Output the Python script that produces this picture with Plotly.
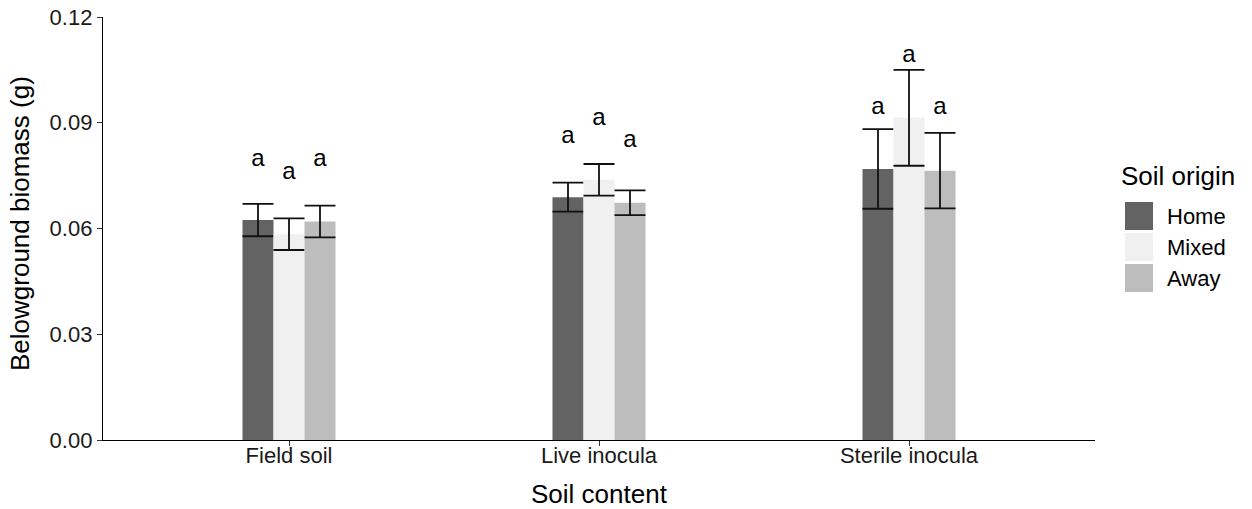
import plotly.graph_objects as go

# ---- data ----
categories = ["Field soil", "Live inocula", "Sterile inocula"]
origins = ["Home", "Mixed", "Away"]
colors = ["#636363", "#f0f0f0", "#bdbdbd"]

home_mean = [0.0624, 0.0689, 0.0769]
mixed_mean = [0.0584, 0.0738, 0.0914]
away_mean = [0.0620, 0.0673, 0.0764]

home_se = [0.0046, 0.0041, 0.0113]
mixed_se = [0.0045, 0.0045, 0.0136]
away_se = [0.0045, 0.0035, 0.0107]

letters_home = ["a", "a", "a"]
letters_mixed = ["a", "a", "a"]
letters_away = ["a", "a", "a"]

letter_y_home = [0.0794, 0.0860, 0.0943]
letter_y_mixed = [0.0758, 0.0912, 0.1088]
letter_y_away = [0.0794, 0.0848, 0.0941]

y_ticks = [0.00, 0.03, 0.06, 0.09, 0.12]

means = [home_mean, mixed_mean, away_mean]
ses = [home_se, mixed_se, away_se]
letters = [letters_home, letters_mixed, letters_away]
letter_ys = [letter_y_home, letter_y_mixed, letter_y_away]

FONT = "Liberation Sans, Arial, sans-serif"
W, H = 1252, 509
L, R, T, B = 103, 157, 17, 69

fig = go.Figure()
for i, name in enumerate(origins):
    fig.add_trace(go.Bar(
        x=categories, y=means[i], name=name, offsetgroup=name,
        marker=dict(color=colors[i], line=dict(width=0)),
        error_y=dict(type="data", array=ses[i], visible=True,
                     color="#111111", thickness=1.8, width=15.5),
        showlegend=False,
    ))
for i, name in enumerate(origins):
    fig.add_trace(go.Scatter(
        x=categories, y=letter_ys[i], mode="text", text=letters[i],
        offsetgroup=name, textposition="middle center",
        textfont=dict(family=FONT, size=24, color="#000000"),
        showlegend=False, hoverinfo="skip",
    ))

# custom legend (ggplot-like big keys)
def px_x(p):
    return (p - L) / (W - L - R)

def px_y(p):
    return (H - B - p) / (H - T - B)

shapes = []
annotations = []
annotations.append(dict(x=px_x(1119), y=px_y(176), xref="paper", yref="paper",
                        text="Soil origin", showarrow=False, xanchor="left",
                        yanchor="middle",
                        font=dict(family=FONT, size=26, color="#000000")))
centers = [216, 247, 278]
for i, name in enumerate(origins):
    c = centers[i]
    shapes.append(dict(type="rect", xref="paper", yref="paper",
                       x0=px_x(1125), x1=px_x(1153),
                       y0=px_y(c + 14), y1=px_y(c - 14),
                       fillcolor=colors[i], line=dict(width=0)))
    annotations.append(dict(x=px_x(1165), y=px_y(c), xref="paper", yref="paper",
                            text=name, showarrow=False, xanchor="left",
                            yanchor="middle",
                            font=dict(family=FONT, size=22, color="#000000")))

# axis titles placed as annotations for exact ggplot-like positions
annotations.append(dict(x=0.5, y=px_y(494), xref="paper", yref="paper",
                        text="Soil content", showarrow=False,
                        xanchor="center", yanchor="middle",
                        font=dict(family=FONT, size=26, color="#000000")))
annotations.append(dict(x=px_x(20), y=px_y(224), xref="paper", yref="paper",
                        text="Belowground biomass (g)", showarrow=False,
                        textangle=-90, xanchor="center", yanchor="middle",
                        font=dict(family=FONT, size=26, color="#000000")))

fig.update_layout(
    width=W, height=H,
    margin=dict(l=L, r=R, t=T, b=B, autoexpand=False),
    paper_bgcolor="white", plot_bgcolor="white",
    barmode="group", bargap=0.7, bargroupgap=0,
    scattermode="group", scattergap=0.7,
    font=dict(family=FONT, color="#000000"),
    shapes=shapes, annotations=annotations,
    xaxis=dict(
        range=[-0.6, 2.6], showgrid=False, zeroline=False, automargin=False,
        showline=True, linecolor="#000000", linewidth=1.4,
        ticks="outside", ticklen=5, tickcolor="#333333", tickwidth=1.2,
        ticklabelstandoff=-10,
        tickfont=dict(family=FONT, size=22, color="#1a1a1a"),
    ),
    yaxis=dict(
        range=[0, 0.12], tickvals=y_ticks, tickformat=".2f", automargin=False,
        showgrid=False, zeroline=False,
        showline=True, linecolor="#000000", linewidth=1.4,
        ticks="outside", ticklen=5, tickcolor="#333333", tickwidth=1.2,
        tickfont=dict(family=FONT, size=22, color="#1a1a1a"),
    ),
)

fig.write_html(
    "out.html",
    config={"displayModeBar": False},
    post_script="document.body.style.margin='0';document.body.style.padding='0';",
)
